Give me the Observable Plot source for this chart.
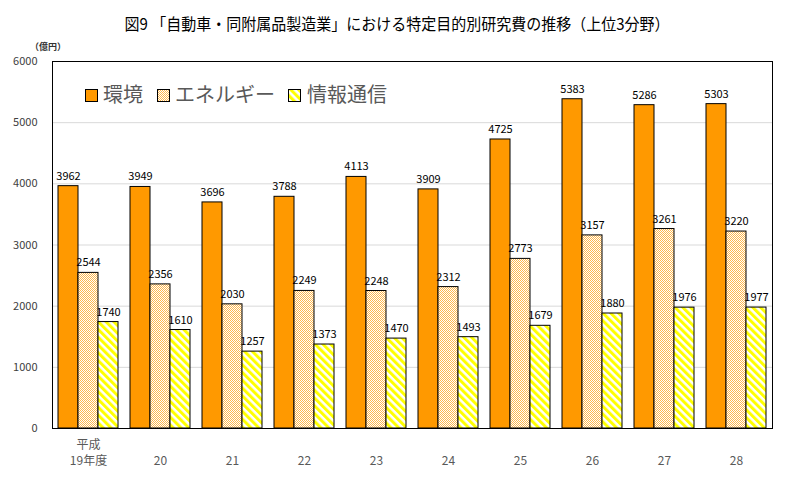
<!DOCTYPE html>
<html>
<head>
<meta charset="utf-8">
<script src="https://cdn.jsdelivr.net/npm/d3@7"></script>
<script src="https://cdn.jsdelivr.net/npm/@observablehq/plot@0.6"></script>
<style>
  html, body { margin: 0; padding: 0; background: #fff; }
  #wrap { position: relative; width: 792px; height: 489px; overflow: hidden; font-family: "Noto Sans CJK JP", sans-serif; }
  .lg-text { position: absolute; font-size: 20px; color: #595959; line-height: 20px; white-space: nowrap; font-family: "Noto Sans CJK JP", sans-serif; }
</style>
</head>
<body>
<svg width="0" height="0" style="position:absolute">
  <defs>
    <pattern id="pEnergy" patternUnits="userSpaceOnUse" x="0" y="0" width="2" height="2">
      <rect x="0" y="0" width="2" height="2" fill="#FFE4BC"></rect>
      <rect x="0" y="0" width="1" height="1" fill="#FFB84D"></rect>
      <rect x="1" y="1" width="1" height="1" fill="#FFB84D"></rect>
      <rect x="1" y="0" width="1" height="1" fill="#FFFFFF"></rect>
      <rect x="0" y="1" width="1" height="1" fill="#FFFFFF"></rect>
    </pattern>
    <pattern id="pInfo" patternUnits="userSpaceOnUse" width="5.5" height="5.5" patternTransform="rotate(-45)">
      <rect x="0" y="0" width="5.5" height="5.5" fill="#ffffff"></rect>
      <rect x="0" y="0" width="3" height="5.5" fill="#FFFF00"></rect>
    </pattern>
  </defs>
</svg>
<div id="wrap"></div>
<script>
// ---- data ----
const years = ["19", "20", "21", "22", "23", "24", "25", "26", "27", "28"];
const xLabels = ["平成\n19年度", "20", "21", "22", "23", "24", "25", "26", "27", "28"];
const seriesNames = ["環境", "エネルギー", "情報通信"];
const kankyo = [3962, 3949, 3696, 3788, 4113, 3909, 4725, 5383, 5286, 5303];
const energy = [2544, 2356, 2030, 2249, 2248, 2312, 2773, 3157, 3261, 3220];
const joho = [1740, 1610, 1257, 1373, 1470, 1493, 1679, 1880, 1976, 1977];
const yTicks = [0, 1000, 2000, 3000, 4000, 5000, 6000];
const titleText = "図9 「自動車・同附属品製造業」における特定目的別研究費の推移（上位3分野）";
const unitText = "（億円）";

const rows = years.map((y, i) => ({year: y, kankyo: kankyo[i], energy: energy[i], joho: joho[i]}));
const labelMap = new Map(years.map((y, i) => [y, xLabels[i]]));

const chart = Plot.plot({
  width: 792,
  height: 489,
  marginLeft: 52,
  marginRight: 20,
  marginTop: 61,
  marginBottom: 61,
  style: {fontFamily: "'Noto Sans CJK JP', sans-serif", fontSize: "11px", color: "#404040", background: "transparent", overflow: "visible"},
  x: {domain: years, paddingInner: 12 / 72, paddingOuter: 6 / 72, round: false, label: null},
  y: {domain: [0, 6000], label: null},
  marks: [
    Plot.gridY(yTicks, {stroke: "#d9d9d9", strokeOpacity: 1}),
    Plot.axisY(yTicks, {tickSize: 0, tickPadding: 15, tickFormat: d => String(d), label: null, fontSize: 11, fill: "#404040"}),
    Plot.axisX({tickSize: 0, tickPadding: 36, tickFormat: d => labelMap.get(d), lineAnchor: "bottom", lineHeight: 1.3, label: null, fontSize: 12, fill: "#595959"}),
    Plot.barY(rows, {x: "year", y: "kankyo", fill: "#FF9900", stroke: "#000", strokeWidth: 1, insetLeft: 0, insetRight: 40}),
    Plot.barY(rows, {x: "year", y: "energy", fill: "url(#pEnergy)", stroke: "#000", strokeWidth: 1, insetLeft: 20, insetRight: 20}),
    Plot.barY(rows, {x: "year", y: "joho", fill: "url(#pInfo)", stroke: "#000", strokeWidth: 1, insetLeft: 40, insetRight: 0}),
    Plot.text(rows, {x: "year", y: "kankyo", text: d => String(d.kankyo), dx: -20, dy: -10, fontSize: 11, fill: "#000"}),
    Plot.text(rows, {x: "year", y: "energy", text: d => String(d.energy), dx: 0, dy: -10, fontSize: 11, fill: "#000"}),
    Plot.text(rows, {x: "year", y: "joho", text: d => String(d.joho), dx: 20, dy: -10, fontSize: 11, fill: "#000"}),
    Plot.frame({stroke: "#000", strokeWidth: 1})
  ]
});

const wrap = document.getElementById("wrap");
chart.style.position = "absolute";
chart.style.left = "0px";
chart.style.top = "0px";
wrap.appendChild(chart);

// title and unit (SVG text overlay)
const ns = "http://www.w3.org/2000/svg";
const tsvg = document.createElementNS(ns, "svg");
tsvg.setAttribute("width", "792");
tsvg.setAttribute("height", "60");
tsvg.style.position = "absolute";
tsvg.style.left = "0px";
tsvg.style.top = "0px";
const t = document.createElementNS(ns, "text");
t.setAttribute("x", "397");
t.setAttribute("y", "30");
t.setAttribute("text-anchor", "middle");
t.setAttribute("font-size", "16");
t.setAttribute("font-family", "'Noto Sans CJK JP', sans-serif");
t.setAttribute("textLength", "545");
t.setAttribute("lengthAdjust", "spacingAndGlyphs");
t.setAttribute("fill", "#000");
t.textContent = titleText;
tsvg.appendChild(t);
const u = document.createElementNS(ns, "text");
u.setAttribute("x", "48");
u.setAttribute("y", "50");
u.setAttribute("text-anchor", "middle");
u.setAttribute("font-size", "9");
u.setAttribute("font-weight", "bold");
u.setAttribute("font-family", "'Noto Sans CJK JP', sans-serif");
u.setAttribute("fill", "#333");
u.textContent = unitText;
tsvg.appendChild(u);
wrap.appendChild(tsvg);

// legend inside plot area
const legendItems = [
  {name: seriesNames[0], fill: "#FF9900", sx: 85, tx: 103},
  {name: seriesNames[1], fill: "url(#pEnergy)", sx: 157, tx: 175},
  {name: seriesNames[2], fill: "url(#pInfo)", sx: 288, tx: 307}
];
legendItems.forEach(it => {
  const s = document.createElementNS(ns, "svg");
  s.setAttribute("width", "13");
  s.setAttribute("height", "13");
  s.style.position = "absolute";
  s.style.left = it.sx + "px";
  s.style.top = "89px";
  const r = document.createElementNS(ns, "rect");
  r.setAttribute("x", "0.5"); r.setAttribute("y", "0.5");
  r.setAttribute("width", "12"); r.setAttribute("height", "12");
  r.setAttribute("fill", it.fill); r.setAttribute("stroke", "#000");
  s.appendChild(r);
  wrap.appendChild(s);
  const d = document.createElement("div");
  d.className = "lg-text";
  d.style.left = it.tx + "px";
  d.style.top = "84px";
  d.textContent = it.name;
  wrap.appendChild(d);
});
</script>
</body>
</html>
